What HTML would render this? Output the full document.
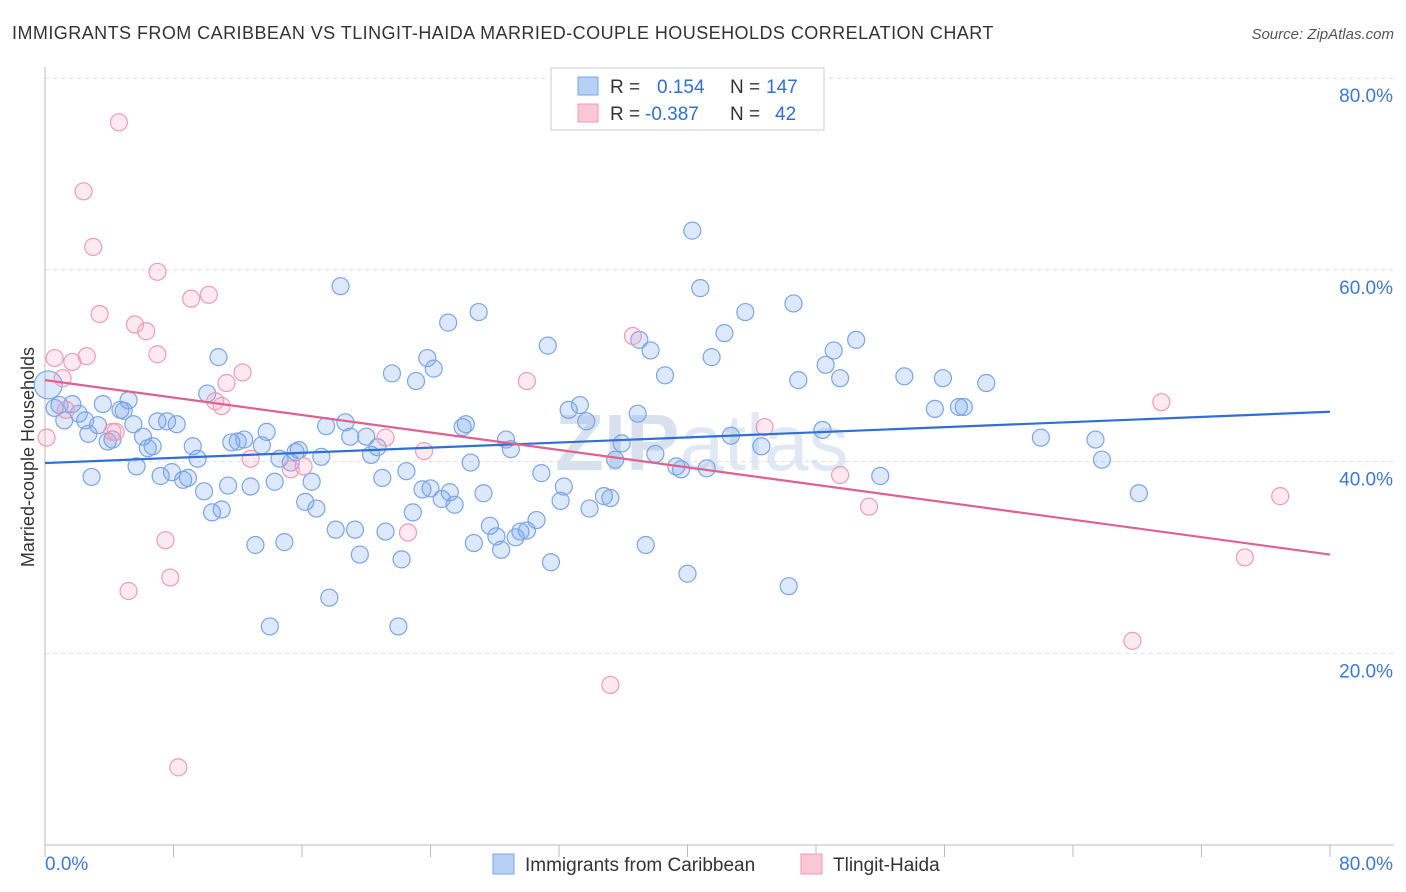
<!DOCTYPE html>
<html><head><meta charset="utf-8">
<style>
body{margin:0;background:#fff;font-family:"Liberation Sans",sans-serif;}
#wrap{position:relative;width:1406px;height:892px;overflow:hidden;}
</style></head>
<body>
<div id="wrap">
<svg id="chart" width="1406" height="892" xmlns="http://www.w3.org/2000/svg">
<text x="12" y="39" font-size="18" fill="#333" letter-spacing="0.45">IMMIGRANTS FROM CARIBBEAN VS TLINGIT-HAIDA MARRIED-COUPLE HOUSEHOLDS CORRELATION CHART</text>
<text x="1394" y="39" font-size="15" fill="#555" text-anchor="end" font-style="italic">Source: ZipAtlas.com</text>
<text x="555" y="470" font-size="80" fill="#d8e2ee" font-weight="bold">ZIP<tspan font-weight="normal" fill="#dfe8f3">atlas</tspan></text>
<g id="grid"></g>
<g id="axes"></g>
<g id="points"></g>
<g id="trends"></g>
<text transform="translate(34,457) rotate(-90)" font-size="18" fill="#333" text-anchor="middle">Married-couple Households</text>
<g>
<rect x="551" y="68" width="273" height="62" fill="#fff" stroke="#ccc"/>
<rect x="578" y="77" width="20" height="18" fill="#b8d0f5" stroke="#7aa5e6"/>
<rect x="578" y="104" width="20" height="18" fill="#f9c7d6" stroke="#f09ab5"/>
<text x="610" y="93" font-size="19" fill="#333">R = <tspan fill="#2f6fd6" x="657">0.154</tspan><tspan fill="#333" x="730">N =</tspan><tspan fill="#2f6fd6" x="766">147</tspan></text>
<text x="610" y="120" font-size="19" fill="#333">R = <tspan fill="#2f6fd6" x="645">-0.387</tspan><tspan fill="#333" x="730">N =</tspan><tspan fill="#2f6fd6" x="775">42</tspan></text>
</g>
<g>
<rect x="493" y="854" width="21" height="20" fill="#b8d0f5" stroke="#7aa5e6"/>
<text x="525" y="871" font-size="19" fill="#333">Immigrants from Caribbean</text>
<rect x="801" y="854" width="21" height="20" fill="#f9c7d6" stroke="#f09ab5"/>
<text x="833" y="871" font-size="19" fill="#333">Tlingit-Haida</text>
</g>
</svg>
</div>
<script>
const blueX=[0.6,0.9,1.2,1.7,2.1,2.5,2.7,2.9,3.3,3.6,3.9,4.2,4.7,4.9,5.2,5.5,5.7,6.1,6.4,6.7,7.0,7.2,7.6,7.9,8.2,8.6,8.9,9.2,9.5,9.9,10.1,10.4,10.8,11.0,11.4,11.6,12.0,12.4,12.8,13.1,13.5,13.8,14.0,14.3,14.6,14.9,15.3,15.6,15.8,16.2,16.6,16.9,17.2,17.5,17.7,18.1,18.4,18.7,19.0,19.3,19.6,20.0,20.3,20.7,21.0,21.2,21.6,22.0,22.2,22.5,22.9,23.1,23.5,23.8,24.0,24.2,24.7,25.1,25.2,25.5,26.0,26.2,26.5,26.7,27.0,27.3,27.7,28.1,28.4,28.7,29.0,29.3,29.6,30.0,30.6,30.9,31.3,31.5,32.1,32.3,32.6,33.3,33.7,33.9,34.8,35.2,35.5,35.9,36.9,37.0,37.4,37.7,38.0,38.6,39.3,39.6,40.0,40.3,40.8,41.2,41.5,42.3,42.7,43.6,44.6,46.3,46.6,46.9,48.4,48.6,49.1,49.5,50.5,52.0,53.5,55.4,55.9,56.9,57.2,58.6,62.0,65.4,65.8,68.1,0.2];
const blueY=[45.6,45.9,44.3,46.0,45.0,44.3,42.9,38.4,43.8,46.0,42.1,42.3,45.4,45.3,46.4,43.9,39.5,42.6,41.4,41.6,44.2,38.5,44.2,38.9,43.9,38.1,38.3,41.6,40.3,36.9,47.1,34.7,50.9,35.0,37.5,42.0,42.1,42.3,37.4,31.3,41.7,43.1,22.8,37.9,40.3,31.6,39.9,41.0,41.2,35.8,37.9,35.1,40.5,43.7,25.8,32.9,58.3,44.1,42.6,32.9,30.3,42.6,40.7,41.5,38.3,32.7,49.2,22.8,29.8,39.0,34.7,48.4,37.1,50.8,37.2,49.7,36.1,54.5,36.8,35.5,43.6,43.9,39.9,31.5,55.6,36.7,33.3,32.2,30.8,42.3,41.3,32.1,32.7,32.8,33.9,38.8,52.1,29.5,35.9,37.4,45.4,45.9,44.2,35.1,36.4,36.2,40.2,41.9,45.0,52.7,31.3,51.6,40.8,49.0,39.5,39.2,28.3,64.1,58.1,39.3,50.9,53.4,42.7,55.6,41.6,27.0,56.5,48.5,43.3,50.1,51.6,48.7,52.7,38.5,48.9,45.5,48.7,45.7,45.7,48.2,42.5,42.3,40.2,36.7,48.0];
const pinkX=[0.1,0.6,1.1,1.3,1.7,2.4,2.6,3.0,3.4,4.2,4.4,4.6,5.2,5.6,6.3,7.0,7.0,7.5,7.8,8.3,9.1,10.2,10.6,11.0,11.3,12.3,12.8,15.3,16.1,21.2,22.6,23.6,30.0,35.2,36.6,44.8,49.5,51.3,67.7,69.5,74.7,76.9];
const pinkY=[42.5,50.8,48.7,45.4,50.4,68.2,51.0,62.4,55.4,43.1,43.1,75.4,26.5,54.3,53.6,59.8,51.2,31.8,27.9,8.1,57.0,57.4,46.3,45.8,48.2,49.3,40.3,39.2,39.5,42.5,32.6,41.1,48.4,16.7,53.1,43.6,38.6,35.3,21.3,46.2,30.0,36.4];
const trendX=[0,80];
const blueTrendY=[39.85,45.2];
const pinkTrendY=[48.5,30.3];
const yTicks=[20,40,60,80];
const xTicks=[0,8,16,24,32,40,48,56,64,72,80];

const NS="http://www.w3.org/2000/svg";
const X0=45,X1=1330,Ybot=845,pxPerPct=9.585;
function sx(v){return X0+(v/80)*(X1-X0);}
function sy(v){return Ybot-v*pxPerPct;}
function mk(tag,attrs,parent){const e=document.createElementNS(NS,tag);for(const k in attrs)e.setAttribute(k,attrs[k]);parent.appendChild(e);return e;}
const grid=document.getElementById('grid'),axes=document.getElementById('axes'),pts=document.getElementById('points'),tr=document.getElementById('trends');
yTicks.forEach(t=>{
  const l=mk('line',{x1:X0,x2:1394,y1:sy(t),y2:sy(t),stroke:'#ddd','stroke-dasharray':'4,4'},grid);
  
  
  const tx=mk('text',{x:1393,y:sy(t)+24,'font-size':19,fill:'#3b78d8','text-anchor':'end'},axes);
  tx.textContent=t.toFixed(1)+'%';
  
  
});
const ax=mk('line',{x1:X0,x2:X0,y1:67,y2:Ybot,stroke:'#bbb'},axes);


const bx=mk('line',{x1:X0,x2:1394,y1:Ybot,y2:Ybot,stroke:'#bbb'},axes);


xTicks.forEach(t=>{
  const l=mk('line',{x1:sx(t),x2:sx(t),y1:Ybot,y2:Ybot+12,stroke:'#bbb'},axes);
  
  
});
const xl0=mk('text',{x:45,y:870,'font-size':19,fill:'#3b78d8'},axes);xl0.textContent='0.0%';


const xl1=mk('text',{x:1393,y:870,'font-size':19,fill:'#3b78d8','text-anchor':'end'},axes);xl1.textContent='80.0%';


blueX.forEach((x,i)=>{
  const c=mk('circle',{cx:sx(x),cy:sy(blueY[i]),r:(i===blueX.length-1)?14:8.5,fill:'rgba(120,165,235,0.25)',stroke:'#7aa5e6','stroke-width':1.2},pts);
  
  
});
pinkX.forEach((x,i)=>{
  const c=mk('circle',{cx:sx(x),cy:sy(pinkY[i]),r:8.5,fill:'rgba(245,160,190,0.22)',stroke:'#f09ab5','stroke-width':1.2},pts);
  
  
});
const bl=mk('line',{x1:sx(trendX[0]),y1:sy(blueTrendY[0]),x2:sx(trendX[1]),y2:sy(blueTrendY[1]),stroke:'#2f6fd6','stroke-width':2.2},tr);


const pl=mk('line',{x1:sx(trendX[0]),y1:sy(pinkTrendY[0]),x2:sx(trendX[1]),y2:sy(pinkTrendY[1]),stroke:'#e0608f','stroke-width':2.2},tr);


</script>
</body></html>
